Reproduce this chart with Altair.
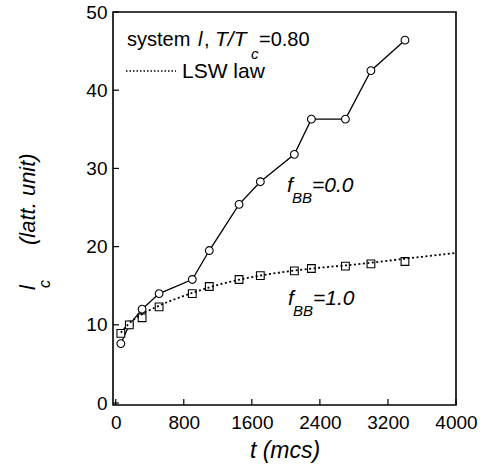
import altair as alt
import pandas as pd

FONT = "Liberation Sans"

# data
t_pts = [60, 160, 310, 510, 900, 1100, 1450, 1700, 2100, 2300, 2700, 3000, 3400]
l_f00 = [7.6, 10.0, 12.0, 14.0, 15.8, 19.5, 25.4, 28.3, 31.8, 36.3, 36.3, 42.5, 46.4]
l_f10 = [8.9, 10.0, 10.9, 12.3, 14.0, 14.9, 15.8, 16.3, 16.9, 17.2, 17.5, 17.8, 18.1]

t_lsw = [60, 150, 300, 500, 800, 1200, 1600, 2000, 2400, 2800, 3200, 3600, 4000]
l_lsw = [9.0, 10.1, 11.3, 12.4, 13.7, 15.1, 16.1, 16.8, 17.3, 17.7, 18.2, 18.7, 19.2]

x_ticks = [0, 800, 1600, 2400, 3200, 4000]
y_ticks = [0, 10, 20, 30, 40, 50]

W, H = 343, 393

df_pts = pd.DataFrame({"t": t_pts, "f00": l_f00, "f10": l_f10})
df_lsw = pd.DataFrame({"t": t_lsw, "l": l_lsw})

xs = alt.Scale(domain=[-32, 4000], nice=False, zero=False)
ys = alt.Scale(domain=[-0.25, 50], nice=False, zero=False)

xax = alt.Axis(values=x_ticks, format="d", title="t (mcs)", titleFont=FONT, titleFontSize=23,
               titleFontStyle="italic", titleFontWeight="normal", titleColor="black",
               titlePadding=7, labelFont=FONT, labelFontSize=19, labelColor="black",
               labelPadding=8, tickSize=0, domain=False, grid=False, labelFlush=False)
yax = alt.Axis(values=y_ticks, format="d", title=None, labelFont=FONT, labelFontSize=19,
               labelColor="black", labelPadding=6, tickSize=0, domain=False, grid=False)

base = alt.Chart(df_pts)

line00 = base.mark_line(color="black", strokeWidth=1.3).encode(
    x=alt.X("t:Q", scale=xs, axis=xax), y=alt.Y("f00:Q", scale=ys, axis=yax))
pts00 = base.mark_point(shape="circle", filled=True, fill="white", stroke="black",
                        strokeWidth=1.1, size=60, opacity=1).encode(
    x=alt.X("t:Q", scale=xs), y=alt.Y("f00:Q", scale=ys))
pts10 = base.mark_point(shape="square", filled=True, fill="white", stroke="black",
                        strokeWidth=1.1, size=60, opacity=1).encode(
    x=alt.X("t:Q", scale=xs), y=alt.Y("f10:Q", scale=ys))
lsw = alt.Chart(df_lsw).mark_line(color="black", strokeWidth=1.8, strokeDash=[2, 2.5],
                                  interpolate="monotone").encode(
    x=alt.X("t:Q", scale=xs), y=alt.Y("l:Q", scale=ys))

xt = alt.Chart(pd.DataFrame({"v": x_ticks})).mark_rule(color="black", strokeWidth=1.2).encode(
    x=alt.X("v:Q", scale=xs), y=alt.value(H - 6), y2=alt.value(H))
yt = alt.Chart(pd.DataFrame({"v": y_ticks})).mark_rule(color="black", strokeWidth=1.2).encode(
    y=alt.Y("v:Q", scale=ys), x=alt.value(0), x2=alt.value(6))


def txt(s, x, y, size=20, italic=False, angle=0):
    return alt.Chart(alt.Data(values=[{}])).mark_text(
        text=s, align="left", baseline="alphabetic", font=FONT, fontSize=size,
        fontStyle="italic" if italic else "normal", angle=angle, color="black"
    ).encode(x=alt.value(x), y=alt.value(y))


texts = [
    txt("system", 14, 34), txt("l", 85, 34, italic=True), txt(",", 91, 34),
    txt("T/T", 102, 34, size=21, italic=True), txt("c", 138, 47, size=15, italic=True),
    txt("=0.80", 146, 34),
    txt("LSW law", 69, 66, size=21),
    txt("f", 174, 180, size=21, italic=True), txt("BB", 179, 191, size=15, italic=True),
    txt("=0.0", 199, 180, size=21, italic=True),
    txt("f", 175, 293, size=21, italic=True), txt("BB", 180, 304, size=15, italic=True),
    txt("=1.0", 200, 293, size=21, italic=True),
    txt("l", -78, 278, size=22, italic=True, angle=270),
    txt("c", -63, 276, size=16, italic=True, angle=270),
    txt("(latt. unit)", -78, 233, size=22, italic=True, angle=270),
]
leg = alt.Chart(alt.Data(values=[{}])).mark_rule(color="black", strokeWidth=1.6,
                                                  strokeDash=[1.5, 2]).encode(
    x=alt.value(13), x2=alt.value(63), y=alt.value(59))

chart = alt.layer(line00, pts00, pts10, lsw, xt, yt, leg, *texts).properties(
    width=W, height=H,
    autosize=alt.AutoSizeParams(type="none"),
    padding={"left": 113, "top": 12, "right": 29, "bottom": 67},
    background="white",
).configure_view(stroke="black", strokeWidth=1.6)

chart.save("out.html", embed_options={"renderer": "svg", "actions": False})
